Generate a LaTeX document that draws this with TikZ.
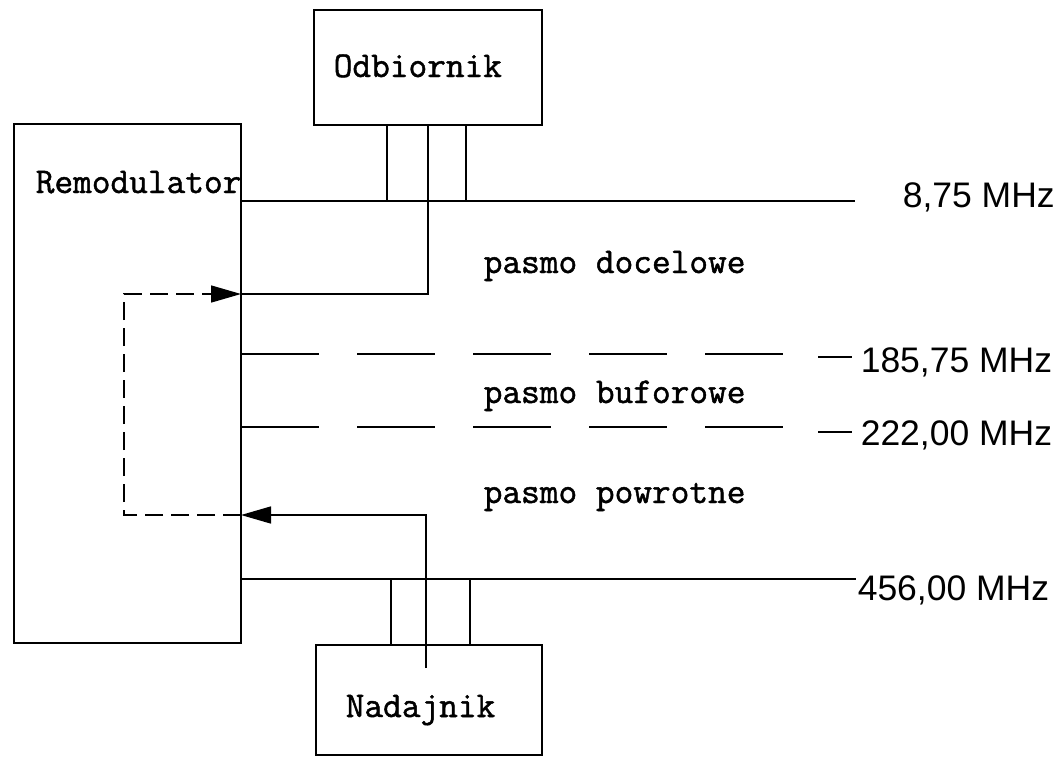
\documentclass[tikz,border=0pt]{standalone}
\usepackage{fontspec}
\setmainfont{Liberation Sans}
\newfontfamily\typew{Latin Modern Mono}[FakeBold=1.3]
\usetikzlibrary{arrows.meta}
\begin{document}
\begin{tikzpicture}[x=1pt,y=-1pt, line width=1.5pt,
  box/.style={draw, rectangle, inner sep=0pt},
  tw/.style={font=\typew\fontsize{36.3}{40}\selectfont, inner sep=0pt, anchor=base west},
  freq/.style={font=\fontsize{35.5}{40}\selectfont, inner sep=0pt, anchor=base west},
  band/.style={dash pattern=on 78pt off 38pt},
  loopdash/.style={dash pattern=on 18pt off 8pt},
  tip/.style={-{Triangle[length=30pt,width=17pt]}}]
\useasboundingbox (0,0) rectangle (1062,761);

% boxes
\node[box, minimum width=227pt, minimum height=519pt] (remod) at (127.5,383.5) {};
\node[box, minimum width=228pt, minimum height=115pt] (odb) at (428,67.5) {};
\node[box, minimum width=226pt, minimum height=110pt] (nad) at (429,700) {};

% texts
\node[tw] (tremod) at (35,193) {Remodulator};
\node[tw] (todb) at (333,77) {Odbiornik};
\node[tw] (tnad) at (345,717) {Nadajnik};
\node[tw] (bd1) at (483,273) {pasmo docelowe};
\node[tw] (bd2) at (483,403) {pasmo buforowe};
\node[tw] (bd3) at (483,503) {pasmo powrotne};

\node[freq] (f1) at (902,207) {8,75 MHz};
\node[freq] (f2) at (860,372) {185,75 MHz};
\node[freq] (f3) at (860,445) {222,00 MHz};
\node[freq] (f4) at (857,600) {456,00 MHz};

% coordinates
\coordinate (r1) at (241,201);
\coordinate (e1) at (855,201);
\coordinate (r2) at (241,354);
\coordinate (e2) at (783,354);
\coordinate (r3) at (241,427);
\coordinate (e3) at (783,427);
\coordinate (r4) at (241,579);
\coordinate (e4) at (856,579);
\coordinate (d2a) at (818,357);
\coordinate (d2b) at (852,357);
\coordinate (d3a) at (818,432);
\coordinate (d3b) at (852,432);

\coordinate (oa) at (387,125);
\coordinate (ob) at (428,125);
\coordinate (oc) at (466,125);
\coordinate (na) at (391,645);
\coordinate (nc) at (470,645);
\coordinate (nend) at (426,668);
\coordinate (rin) at (241,294);
\coordinate (rout) at (241,515);
\coordinate (lt) at (124,294);
\coordinate (lb) at (124,515);

% band lines
\draw (r1) -- (e1);
\draw[band] (r2) -- (e2);
\draw[band] (r3) -- (e3);
\draw (r4) -- (e4);
\draw (d2a) -- (d2b);
\draw (d3a) -- (d3b);

% Odbiornik connection
\draw (oa) -- (oa |- r1);
\draw (oc) -- (oc |- r1);
\draw (ob) -- (ob |- rin) -- (rin);

% Nadajnik connection
\draw (na) -- (na |- r4);
\draw (nc) -- (nc |- r4);
\draw[tip] (nend) -- (nend |- rout) -- (rout);

% dashed loop
\draw[loopdash, tip] (rout) -- (lb) -- (lt) -- (rin);
\end{tikzpicture}
\end{document}
